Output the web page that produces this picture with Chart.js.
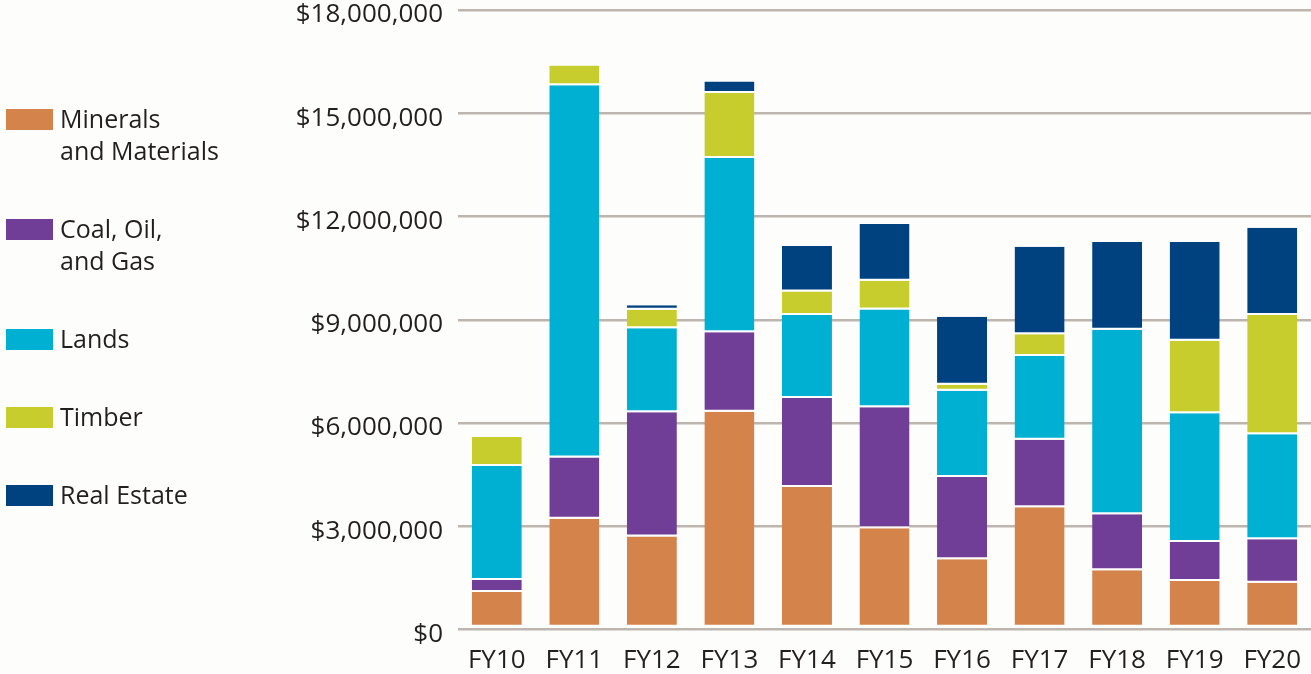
<!DOCTYPE html>
<html>
<head>
<meta charset="utf-8">
<script src="https://cdn.jsdelivr.net/npm/chart.js@4"></script>
<style>
  html, body { margin: 0; padding: 0; background: #fdfdfc; }
  #wrap { position: relative; width: 1311px; height: 674px; }
  #legend {
    position: absolute; left: 0; top: 102px;
    font-family: "Open Sans", sans-serif; font-size: 25px; line-height: 32.3px; color: #231f20;
  }
  .item { position: relative; padding-left: 60px; margin-bottom: 45.5px; }
  .swatch { position: absolute; left: 6px; top: 7px; width: 47px; height: 21px; }
</style>
</head>
<body>
<div id="wrap">
  <canvas id="myChart" width="1311" height="674"></canvas>
  <div id="legend"></div>
</div>
<script>
// categories and series (values in dollars)
var years = ['FY10', 'FY11', 'FY12', 'FY13', 'FY14', 'FY15', 'FY16', 'FY17', 'FY18', 'FY19', 'FY20'];
var minerals   = [1090000, 3220000, 2700000, 6330000, 4140000, 2940000, 2040000, 3550000, 1720000, 1410000, 1360000];
var coalOilGas = [350000, 1780000, 3610000, 2310000, 2590000, 3520000, 2390000, 1960000, 1630000, 1130000, 1260000];
var lands      = [3310000, 10810000, 2440000, 5060000, 2410000, 2840000, 2510000, 2440000, 5360000, 3740000, 3050000];
var timber     = [840000, 580000, 540000, 1890000, 680000, 830000, 170000, 630000, 0, 2110000, 3470000];
var realEstate = [0, 0, 130000, 330000, 1320000, 1650000, 1980000, 2540000, 2550000, 2870000, 2530000];
var yTicks = [0, 3000000, 6000000, 9000000, 12000000, 15000000, 18000000];

var seriesNames = [['Minerals', 'and Materials'], ['Coal, Oil,', 'and Gas'], ['Lands'], ['Timber'], ['Real Estate']];
var seriesData = [minerals, coalOilGas, lands, timber, realEstate];
var colors = ['#d4834a', '#703d97', '#00b0d2', '#c6cd2c', '#004280'];

var datasets = seriesData.map(function(d, i) {
  // thin white seam below each segment; the first one leaves a small gap above the axis line
  return {
    label: seriesNames[i].join(' '),
    data: d,
    backgroundColor: colors[i],
    borderColor: i === 0 ? '#fdfdfc' : 'rgba(255,255,255,0.85)',
    borderWidth: { top: 0, left: 0, right: 0, bottom: i === 0 ? 3.5 : 2 },
    borderSkipped: false,
    barPercentage: 0.645,
    categoryPercentage: 1
  };
});

// html legend on the left
var legend = document.getElementById('legend');
seriesNames.forEach(function(name, i) {
  var div = document.createElement('div');
  div.className = 'item';
  div.innerHTML = '<span class="swatch" style="background:' + colors[i] + '"></span>' + name.join('<br>');
  legend.appendChild(div);
});

var tickFont = { family: 'Open Sans', size: 26 };

var ctx = document.getElementById('myChart').getContext('2d');
var myChart = new Chart(ctx, {
  type: 'bar',
  data: { labels: years, datasets: datasets },
  options: {
    responsive: false,
    animation: false,
    layout: { padding: { top: 10, right: 0, bottom: 0, left: 0 } },
    plugins: {
      legend: { display: false },
      tooltip: { enabled: false }
    },
    scales: {
      x: {
        stacked: true,
        grid: { display: false, drawTicks: false },
        border: { display: false },
        ticks: { color: '#231f20', font: tickFont, padding: 15, maxRotation: 0 },
        afterFit: function(scale) {
          scale.height = 44.5;
          scale.paddingLeft = 0;
          scale.paddingRight = 0;
        }
      },
      y: {
        stacked: true,
        min: 0,
        max: 18000000,
        afterBuildTicks: function(scale) {
          scale.ticks = yTicks.map(function(v) { return { value: v }; });
        },
        afterFit: function(scale) {
          scale.width = 458;
          scale.paddingTop = 0;
          scale.paddingBottom = 0;
        },
        grid: { color: '#beb6ae', lineWidth: 2.5, drawTicks: false },
        border: { display: false },
        ticks: {
          color: '#231f20',
          font: tickFont,
          padding: 15,
          labelOffset: 5,
          callback: function(v) { return '$' + v.toLocaleString('en-US'); }
        }
      }
    }
  }
});
</script>
</body>
</html>
